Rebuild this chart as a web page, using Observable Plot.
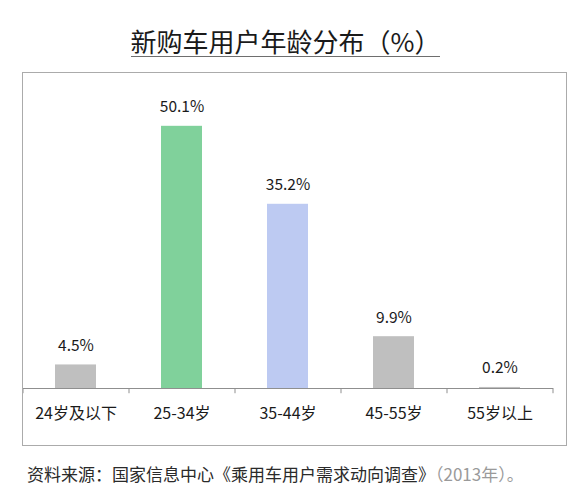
<!DOCTYPE html>
<html>
<head>
<meta charset="utf-8">
<script src="https://cdn.jsdelivr.net/npm/d3@7"></script>
<script src="https://cdn.jsdelivr.net/npm/@observablehq/plot@0.6"></script>
<style>
  html, body { margin: 0; padding: 0; background: #fff; }
  #wrap { position: relative; width: 571px; height: 500px; font-family: "Noto Sans CJK SC", "Noto Sans", sans-serif; color: #1a1a1a; }
  #title { position: absolute; left: 0; width: 571px; top: 25px; text-align: center; }
  #title span { display: inline-block; font-size: 26px; line-height: 31px; padding: 0; border-bottom: 1.5px solid #6e6e6e; }
  #frame { position: absolute; left: 22px; top: 72px; width: 543px; height: 372px; border: 1px solid #ababab; }
  #frame svg { display: block; }
  #caption { position: absolute; left: 27px; top: 462px; font-size: 17px; line-height: 24px; color: #2a2a2a; white-space: nowrap; }
  #caption .yr { color: #9a9a9a; }
</style>
</head>
<body>
<div id="wrap">
  <div id="title"><span>新购车用户年龄分布（%）</span></div>
  <div id="frame"></div>
  <div id="caption">资料来源：国家信息中心《乘用车用户需求动向调查》<span class="yr">（2013年）。</span></div>
</div>
<script>
const categories = ["24岁及以下", "25-34岁", "35-44岁", "45-55岁", "55岁以上"];
const values = [4.5, 50.1, 35.2, 9.9, 0.2];
const valueLabels = ["4.5%", "50.1%", "35.2%", "9.9%", "0.2%"];
const barColors = ["#bfbfbf", "#80d19b", "#bdcaf2", "#bfbfbf", "#bfbfbf"];

const data = categories.map((c, i) => ({category: c, value: values[i], label: valueLabels[i], color: barColors[i]}));

const chart = Plot.plot({
  width: 543,
  height: 372,
  marginLeft: 0,
  marginRight: 13,
  marginTop: 1,
  marginBottom: 57,
  style: {fontFamily: "'Noto Sans CJK SC', 'Noto Sans', sans-serif", fontSize: "15px", color: "#1a1a1a", background: "#fff"},
  x: {domain: categories, paddingInner: 0.613, paddingOuter: 0.3065, axis: null},
  y: {domain: [0, 60], axis: null},
  color: {type: "identity"},
  marks: [
    Plot.barY(data, {x: "category", y: "value", fill: "color"}),
    Plot.text(data, {x: "category", y: "value", text: "label", dy: -19, fontSize: 15.5, fill: "#1a1a1a"}),
    Plot.ruleY([0], {stroke: "#8f8f8f"}),
    Plot.ruleX(categories, {x: d => d, dx: -53, y1: 0, y2: -1, stroke: "#8f8f8f"}),
    Plot.ruleX(categories.slice(-1), {x: d => d, dx: 53, y1: 0, y2: -1, stroke: "#8f8f8f"}),
    Plot.axisX({tickSize: 0, tickPadding: 19, fontSize: 16, fill: "#1a1a1a", label: null})
  ]
});
document.getElementById("frame").appendChild(chart);
</script>
</body>
</html>
